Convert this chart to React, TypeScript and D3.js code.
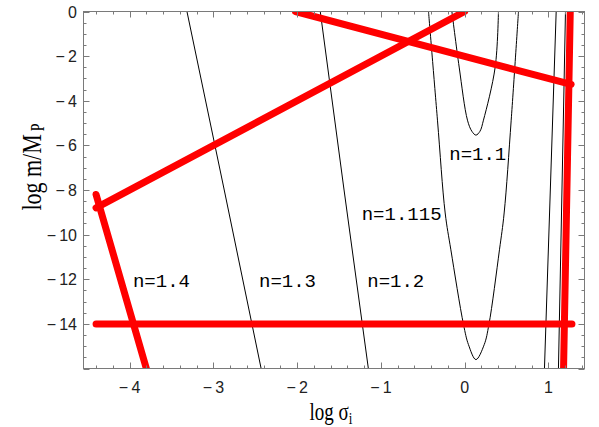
import React from "react";
import * as d3 from "d3";

// ---- data ----
const xDomain = [-4.55, 1.43];
const yDomain = [-16, 0];
const xTicks = [-4, -3, -2, -1, 0, 1];
const yTicks = [0, -2, -4, -6, -8, -10, -12, -14];

// thick red constraint lines [logSigma, logM]
const redHorizontal: [number, number][] = [[-4.4, -14], [1.28, -14]];
const redSteep: [number, number][] = [[-4.4, -8.2], [-3.8, -16]];
const redRising: [number, number][] = [[-4.4, -8.8], [0, 0]];
const redFalling: [number, number][] = [[-2.02, 0], [1.27, -3.27]];
const redVertical: [number, number][] = [[1.26, 0], [1.18, -16]];

// thin black contour curves
const curveN14: [number, number][] = [[-3.315, 0], [-2.87, -8], [-2.43, -16]];
const curveN13: [number, number][] = [[-1.724, 0], [-1.44, -8], [-1.15, -16]];
const curveN1115: [number, number][] = [
  [-0.432, 0], [-0.325, -4.87], [-0.233, -9.03], [-0.165, -10.68], [-0.014, -14.03],
  [0.045, -14.93], [0.134, -15.6], [0.233, -14.93], [0.289, -14.03], [0.415, -10.68],
  [0.471, -9.03], [0.555, -4.87], [0.642, 0],
];
const curveN11: [number, number][] = [
  [-0.153, 0], [-0.066, -2.49], [0.033, -4.87], [0.086, -5.37], [0.134, -5.54],
  [0.182, -5.37], [0.224, -4.87], [0.364, -2.49], [0.403, 0],
];
const curveRightA: [number, number][] = [[1.092, 0], [0.952, -16]];
const curveRightB: [number, number][] = [[1.203, 0], [1.119, -16]];

const labelTexts = ["n=1.4", "n=1.3", "n=1.2", "n=1.115", "n=1.1"];
const labelX = [-3.96, -2.455, -1.163, -1.229, -0.184];
const labelY = [-12.35, -12.35, -12.35, -9.34, -6.66];

const redLines = [redHorizontal, redSteep, redRising, redFalling, redVertical];
const blackCurves = [curveN14, curveN13, curveN1115, curveN11, curveRightA, curveRightB];

export default function App() {
  const left = 83.5, right = 584.5, top = 11.5, bottom = 368.5;
  const x = d3.scaleLinear().domain(xDomain).range([left, right]);
  const y = d3.scaleLinear().domain(yDomain).range([bottom, top]);
  const line = d3.line<[number, number]>().x(d => x(d[0])).y(d => y(d[1]));
  const smooth = d3.line<[number, number]>().x(d => x(d[0])).y(d => y(d[1])).curve(d3.curveCatmullRom.alpha(0.5));

  const xMinor = d3.range(-22, 8).map(i => +(i * 0.2).toFixed(2)).filter(v => v >= xDomain[0] && v <= xDomain[1]);
  const yMinor = d3.range(-32, 1).map(i => i * 0.5);
  const frame = "#7a7a7a";
  const major = 6, minor = 3;
  const minus = (v: number) => (v < 0 ? "\u2212\u2009" + Math.abs(v) : String(v));

  return (
    <svg width={599} height={427} style={{ position: "absolute", left: 0, top: 0, background: "#fff" }}>
      <defs>
        <clipPath id="plot">
          <rect x={left} y={top} width={right - left} height={bottom - top} />
        </clipPath>
      </defs>
      <rect x={0} y={0} width={599} height={427} fill="#fff" />
      <g clipPath="url(#plot)">
        {blackCurves.map((c, i) => (
          <path key={"b" + i} d={(c.length > 3 ? smooth(c) : line(c)) || ""} fill="none" stroke="#000" strokeWidth={1} />
        ))}
        {redLines.map((c, i) => (
          <path key={"r" + i} d={line(c) || ""} fill="none" stroke="#ff0000" strokeWidth={7} strokeLinecap="round" />
        ))}
      </g>
      {/* frame */}
      <rect x={left} y={top} width={right - left} height={bottom - top} fill="none" stroke={frame} strokeWidth={1} />
      {/* x ticks */}
      {xMinor.map((v, i) => {
        const isMajor = Math.abs(v - Math.round(v)) < 1e-6;
        const len = isMajor ? major : minor;
        const px = Math.round(x(v)) + 0.5;
        return (
          <g key={"xt" + i} stroke={frame} strokeWidth={1}>
            <line x1={px} x2={px} y1={bottom} y2={bottom - len} />
            <line x1={px} x2={px} y1={top} y2={top + len} />
          </g>
        );
      })}
      {yMinor.map((v, i) => {
        const isMajor = Math.abs(v / 2 - Math.round(v / 2)) < 1e-6;
        const len = isMajor ? major : minor;
        const py = Math.round(y(v)) + 0.5;
        return (
          <g key={"yt" + i} stroke={frame} strokeWidth={1}>
            <line x1={left} x2={left + len} y1={py} y2={py} />
            <line x1={right} x2={right - len} y1={py} y2={py} />
          </g>
        );
      })}
      {/* tick labels */}
      {xTicks.map(v => (
        <text key={"xl" + v} x={x(v)} y={393} textAnchor="middle" fontFamily="Liberation Sans, Arial, sans-serif" fontSize={16} fill="#222">
          {minus(v)}
        </text>
      ))}
      {yTicks.map(v => (
        <text key={"yl" + v} x={77} y={y(v) + 6} textAnchor="end" fontFamily="Liberation Sans, Arial, sans-serif" fontSize={16} fill="#222">
          {minus(v)}
        </text>
      ))}
      {/* contour labels */}
      {labelTexts.map((t, i) => (
        <text key={"nl" + i} x={x(labelX[i])} y={y(labelY[i])} fontFamily="Liberation Mono, Courier New, monospace" fontSize={19} fill="#000">
          {t}
        </text>
      ))}
      {/* axis titles */}
      <g transform="translate(331,420) scale(1,1.27)">
        <text textAnchor="middle" fontFamily="Liberation Serif, Times New Roman, serif" fontSize={19} fill="#000">
          log σ<tspan fontSize={13} dy={3}>i</tspan>
        </text>
      </g>
      <g transform="translate(41,167) rotate(-90) scale(1,1.27)">
        <text textAnchor="middle" fontFamily="Liberation Serif, Times New Roman, serif" fontSize={22} fill="#000">
          log m/M<tspan fontSize={14} dx={3} dy={2}>P</tspan>
        </text>
      </g>
    </svg>
  );
}
